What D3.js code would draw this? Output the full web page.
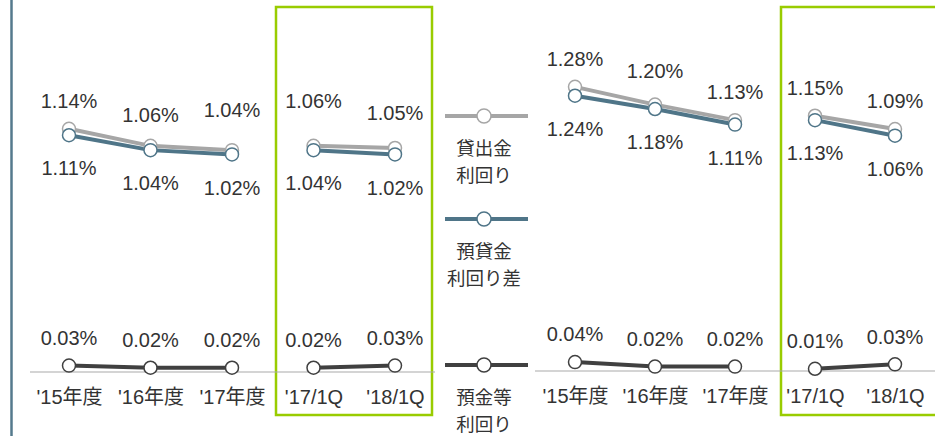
<!DOCTYPE html>
<html><head><meta charset="utf-8">
<script src="https://cdn.jsdelivr.net/npm/d3@7"></script>
<style>
body{margin:0;background:#fff;}
svg{display:block;font-family:"Liberation Sans",Arial,"Noto Sans CJK JP",sans-serif;}
</style></head>
<body>
<svg id="c" width="935" height="436"></svg>
<script>
// ---- data ----
const categories = ["'15年度","'16年度","'17年度","'17/1Q","'18/1Q"];
const loanYieldA   = [1.14,1.06,1.04,1.06,1.05];
const spreadA      = [1.11,1.04,1.02,1.04,1.02];
const depositA     = [0.03,0.02,0.02,0.02,0.03];
const loanYieldB   = [1.28,1.20,1.13,1.15,1.09];
const spreadB      = [1.24,1.18,1.11,1.13,1.06];
const depositB     = [0.04,0.02,0.02,0.01,0.03];
const legendLabels = [["貸出金","利回り"],["預貸金","利回り差"],["預金等","利回り"]];

const colors = {loan:"#a6a6a6", spread:"#4f7588", deposit:"#404040", green:"#99cc00", axis:"#aaaaaa", text:"#333333"};

const svg = d3.select("#c");

// left vertical rule
svg.append("line").attr("x1",11.5).attr("x2",11.5).attr("y1",0).attr("y2",436)
  .attr("stroke","#557a8d").attr("stroke-width",2.5);

function panel(cfg){
  const x = d3.scalePoint().domain(categories).range(cfg.xr);
  const y = d3.scaleLinear().domain([0,1.5]).range(cfg.yr);
  const g = svg.append("g");
  g.append("rect").attr("x",cfg.box[0]).attr("y",7).attr("width",cfg.box[1]-cfg.box[0]).attr("height",408)
    .attr("fill","none").attr("stroke",colors.green).attr("stroke-width",2.5);
  g.append("line").attr("x1",cfg.base[0]).attr("x2",cfg.base[1]).attr("y1",y(0)).attr("y2",y(0))
    .attr("stroke",colors.axis).attr("stroke-width",1.2);
  const ax = g.append("g").attr("transform",`translate(0,${y(0)})`)
    .call(d3.axisBottom(x).tickSize(0).tickPadding(18));
  ax.select(".domain").remove();
  ax.selectAll("text").attr("font-size",20).attr("fill",colors.text)
    .attr("font-family","'Liberation Sans',Arial,'Noto Sans CJK JP',sans-serif");

  const groups = [[0,1,2],[3,4]];
  const series = [
    {v:cfg.loan, c:colors.loan, pos:"above"},
    {v:cfg.spread, c:colors.spread, pos:"below"},
    {v:cfg.dep, c:colors.deposit, pos:"above"}
  ];
  series.forEach(s=>{
    const ln = d3.line().x(i=>x(categories[i])).y(i=>y(s.v[i]));
    groups.forEach(gr=>{
      g.append("path").attr("d",ln(gr)).attr("fill","none").attr("stroke",s.c).attr("stroke-width",4);
    });
  });
  series.forEach(s=>{
    categories.forEach((c,i)=>{
      g.append("circle").attr("cx",x(c)).attr("cy",y(s.v[i])).attr("r",6.5)
        .attr("fill","#fff").attr("stroke",s.c).attr("stroke-width",1.5);
    });
  });
  series.forEach((s,si)=>{
    categories.forEach((c,i)=>{
      const nud = (cfg.nudge && cfg.nudge[si]) ? cfg.nudge[si][i] : 0;
      const yy = y(s.v[i]) + (s.pos==="above" ? -28 : 33) + nud;
      g.append("text").attr("x",x(c)).attr("y",yy).attr("dy","0.36em")
        .attr("text-anchor","middle").attr("font-size",20).attr("fill",colors.text)
        .text(s.v[i].toFixed(2)+"%");
    });
  });
}

panel({xr:[69,395], yr:[372,52], box:[276,432], base:[30,435],
  loan:loanYieldA, spread:spreadA, dep:depositA,
  nudge:[[0,-3,-12,-17,-7],[0,0,0,0,0],[0,0,0,0,0]]});
panel({xr:[575,895], yr:[371,38], box:[781,950], base:[535,935],
  loan:loanYieldB, spread:spreadB, dep:depositB,
  nudge:[[0,-6,0,0,0],[0,0,0,0,0],[0,0,0,0,0]]});

// legend
const legY = [116,219,365];
const legC = [colors.loan, colors.spread, colors.deposit];
const leg = svg.append("g");
legendLabels.forEach((lab,i)=>{
  leg.append("line").attr("x1",445).attr("x2",528).attr("y1",legY[i]).attr("y2",legY[i])
    .attr("stroke",legC[i]).attr("stroke-width",4);
  leg.append("circle").attr("cx",484).attr("cy",legY[i]).attr("r",7)
    .attr("fill","#fff").attr("stroke",legC[i]).attr("stroke-width",1.5);
  lab.forEach((t,j)=>{
    leg.append("text").attr("x",484).attr("y",legY[i]+32+j*27).attr("dy","0.36em")
      .attr("text-anchor","middle").attr("font-size",18.5).attr("fill",colors.text)
      .attr("font-family","'Noto Sans CJK JP',sans-serif").text(t);
  });
});
</script>
</body></html>
